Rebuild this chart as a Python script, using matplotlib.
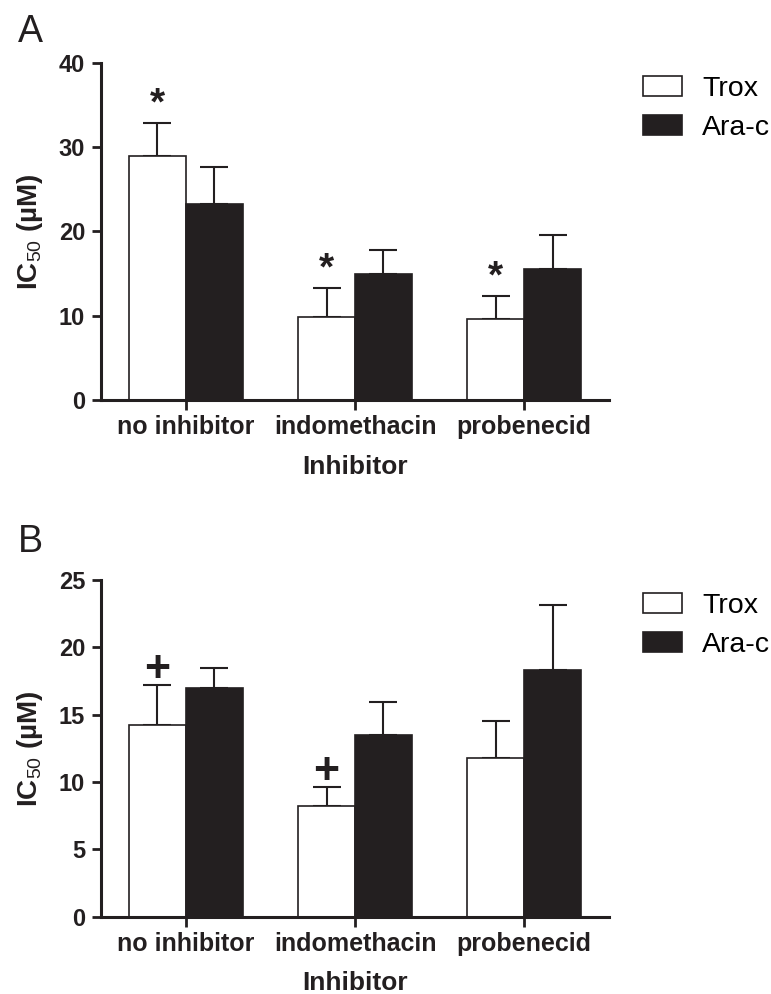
import matplotlib
matplotlib.use("Agg")
import matplotlib.pyplot as plt
import numpy as np

plt.rcParams['font.family'] = ['Liberation Sans', 'DejaVu Sans']
plt.rcParams['mathtext.fontset'] = 'custom'
plt.rcParams['mathtext.rm'] = 'Liberation Sans'

inhibitors = ["no inhibitor", "indomethacin", "probenecid"]
series = ["Trox", "Ara-c"]

# panel A
a_trox = [29.0, 9.9, 9.6]
a_trox_err = [3.9, 3.4, 2.8]
a_arac = [23.25, 14.95, 15.5]
a_arac_err = [4.45, 2.85, 4.1]
a_marks = ["*", "*", "*"]

# panel B
b_trox = [14.2, 8.2, 11.8]
b_trox_err = [3.0, 1.45, 2.75]
b_arac = [17.0, 13.5, 18.3]
b_arac_err = [1.5, 2.45, 4.85]
b_marks = ["+", "+", ""]

DARK = "#231f20"
W = 771 / 100
H = 994 / 100


def draw_panel(ax, trox, trox_err, arac, arac_err, marks, ymax, step, mark_off, mark_size):
    x = np.arange(len(inhibitors))
    bw = 0.336
    ax.bar(x - bw / 2, trox, bw, color="white", edgecolor=DARK, linewidth=1.2,
           label=series[0], zorder=2)
    ax.bar(x + bw / 2, arac, bw, color=DARK, edgecolor=DARK, linewidth=1.2,
           label=series[1], zorder=2)
    # upper error bars only
    ax.errorbar(x - bw / 2, trox, yerr=[np.zeros(3), trox_err], fmt="none",
                ecolor=DARK, elinewidth=1.5, capsize=10, capthick=1.5, zorder=1)
    ax.errorbar(x + bw / 2, arac, yerr=[np.zeros(3), arac_err], fmt="none",
                ecolor=DARK, elinewidth=1.5, capsize=10, capthick=1.5, zorder=1)
    for i, m in enumerate(marks):
        if m:
            ax.annotate(m, (x[i] - bw / 2, trox[i] + trox_err[i]),
                        xytext=(0, mark_off), textcoords="offset points",
                        ha="center", va="bottom", fontsize=mark_size,
                        fontweight="bold", color=DARK)

    ax.set_xlim(-0.5, 2.5)
    ax.set_ylim(0, ymax)
    ax.set_yticks(np.arange(0, ymax + 0.1, step))
    ax.set_xticks(x)
    ax.set_xticklabels(inhibitors, fontsize=18, fontweight="bold")
    for lab in ax.get_yticklabels():
        lab.set_fontsize(17)
        lab.set_fontweight("bold")
    ax.tick_params(axis="y", length=6.5, width=2, pad=5, colors=DARK)
    ax.tick_params(axis="x", length=7, width=2, pad=4, colors=DARK)
    for s in ["top", "right"]:
        ax.spines[s].set_visible(False)
    for s in ["left", "bottom"]:
        ax.spines[s].set_linewidth(2.2)
        ax.spines[s].set_color(DARK)
    ax.set_xlabel("Inhibitor", fontsize=19, fontweight="bold", labelpad=11, color=DARK)
    ax.set_ylabel(r"IC$_{\mathrm{50}}$ (µM)", fontsize=20, fontweight="bold",
                  labelpad=10, color=DARK)
    ax.legend(loc="upper left", bbox_to_anchor=(1.067, 0.962), frameon=False,
              fontsize=20.5, handlelength=1.37, handleheight=0.7, handletextpad=0.7,
              labelspacing=0.47, borderpad=0, borderaxespad=0)


fig = plt.figure(figsize=(W, H), dpi=100)
ax1 = fig.add_axes([101 / 771, 1 - 400 / 994, 508 / 771, 337 / 994])
ax2 = fig.add_axes([101 / 771, 1 - 916.7 / 994, 508 / 771, 336.7 / 994])

draw_panel(ax1, a_trox, a_trox_err, a_arac, a_arac_err, a_marks, 40, 10, 0, 28)
draw_panel(ax2, b_trox, b_trox_err, b_arac, b_arac_err, b_marks, 25, 5, -4.5, 32)

fig.text(18 / 771, 1 - 42 / 994, "A", fontsize=27, color=DARK)
fig.text(18 / 771, 1 - 552 / 994, "B", fontsize=27, color=DARK)

fig.savefig("out.png", dpi=100)
